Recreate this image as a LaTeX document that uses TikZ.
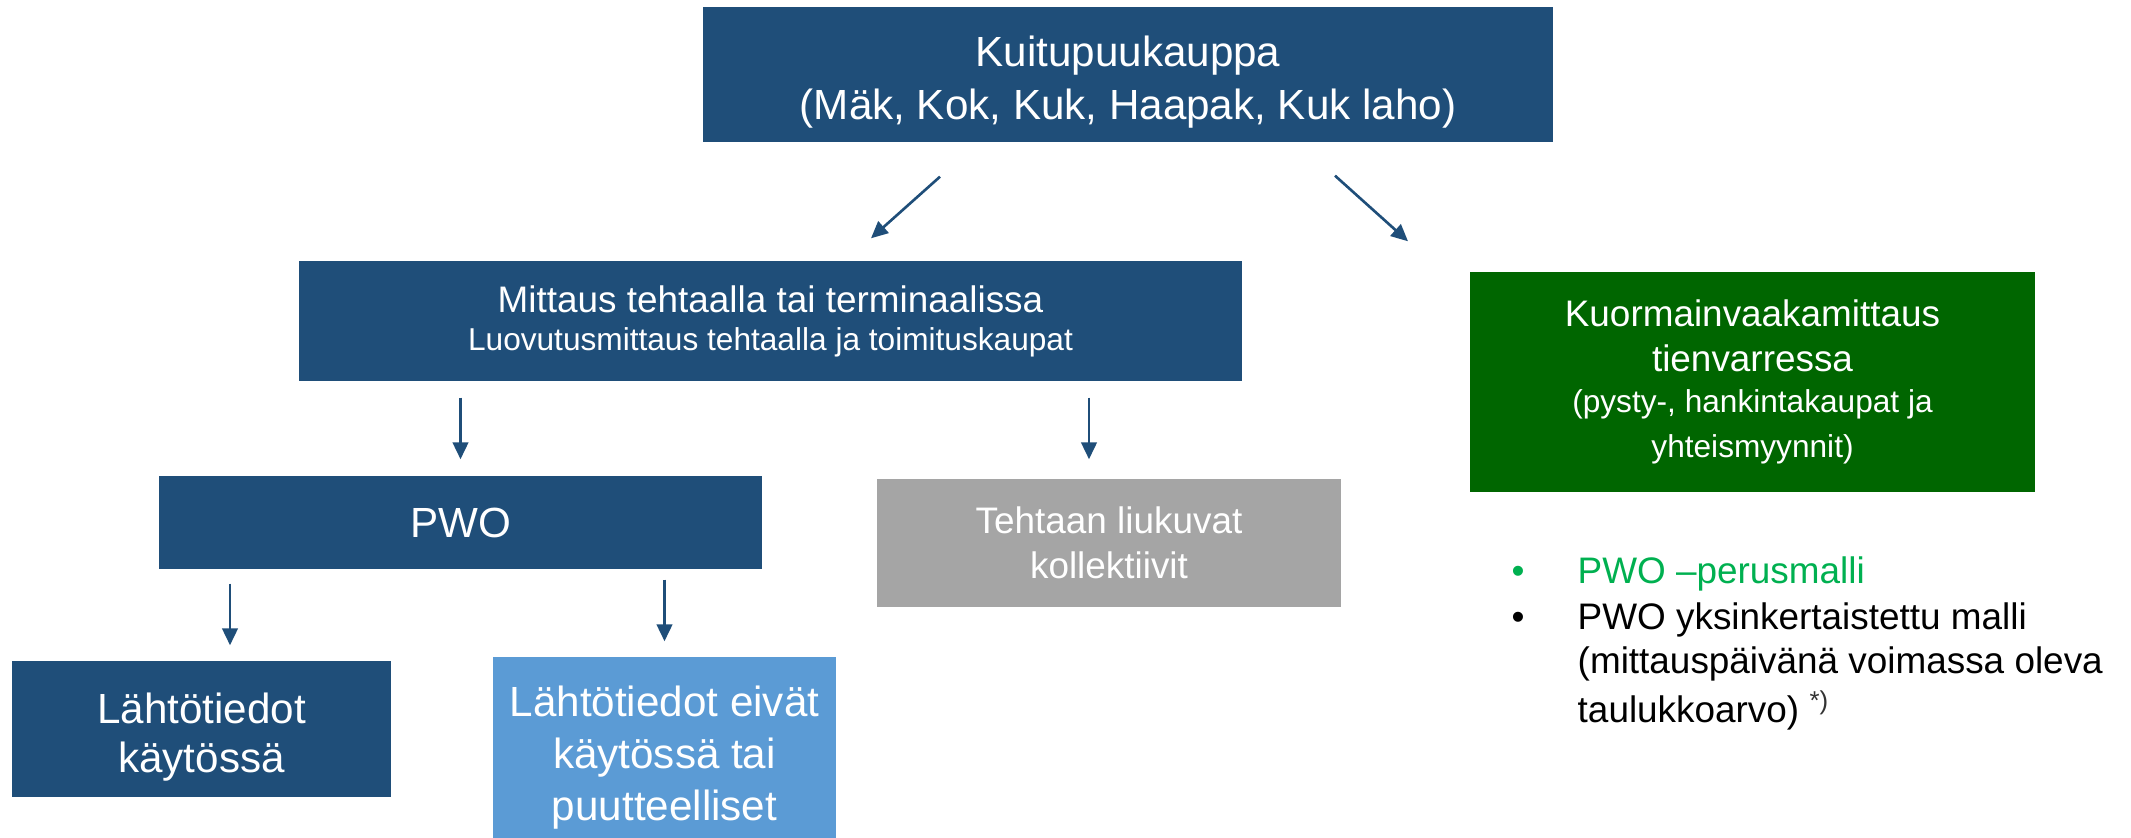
\documentclass[tikz,border=0pt]{standalone}
\usepackage{fontspec}
\setmainfont{Liberation Sans}
\usetikzlibrary{arrows.meta,positioning,calc}
\definecolor{boxblue}{HTML}{1F4E79}
\definecolor{boxgreen}{HTML}{006600}
\definecolor{boxgrey}{HTML}{A5A5A5}
\definecolor{boxlight}{HTML}{5B9BD5}
\definecolor{listgreen}{HTML}{00B050}
\newcommand{\fbig}{\fontsize{12}{14.8}\selectfont}
\newcommand{\fmid}{\fontsize{10.5}{12.8}\selectfont}
\newcommand{\fsmall}{\fontsize{9}{11}\selectfont}
\newcommand{\topstrut}[1]{\rule{0pt}{#1}}
\tikzset{
  bluebox/.style={fill=boxblue, text=white, align=center, inner sep=0pt},
  greenbox/.style={bluebox, fill=boxgreen},
  greybox/.style={bluebox, fill=boxgrey},
  lightbox/.style={bluebox, fill=boxlight},
  arr/.style={-{Triangle[length=4.8pt, width=4.4pt]}, line width=0.75pt, draw=boxblue},
  listtext/.style={inner sep=0pt, font=\fmid, anchor=base west}
}
\begin{document}
\begin{tikzpicture}
  \useasboundingbox (0,0) rectangle (21.31,8.38);
  % boxes
  \node[bluebox, minimum width=8.5cm, minimum height=1.35cm, font=\fbig] (top) at (11.28,7.635)
    {\topstrut{13pt}Kuitupuukauppa\\[0.4pt](Mäk, Kok, Kuk, Haapak, Kuk laho)};
  \node[bluebox, minimum width=9.43cm, minimum height=1.2cm, font=\fmid] (mitt) at (7.705,5.17)
    {Mittaus tehtaalla tai terminaalissa\\[-2pt]{\fsmall Luovutusmittaus tehtaalla ja toimituskaupat}};
  \node[greenbox, minimum width=5.65cm, minimum height=2.2cm, font=\fmid] (kuorm) at (17.525,4.56)
    {Kuormainvaakamittaus\\tienvarressa\\[-1pt]{\fsmall (pysty-, hankintakaupat ja}\\{\fsmall yhteismyynnit)}};
  \node[bluebox, minimum width=6.03cm, minimum height=0.93cm, font=\fbig] (pwo) at (4.605,3.155) {PWO};
  \node[greybox, minimum width=4.64cm, minimum height=1.28cm, font=\fmid] (teht) at (11.09,2.95)
    {Tehtaan liukuvat\\kollektiivit};
  \node[bluebox, minimum width=3.79cm, minimum height=1.36cm, font=\fbig] (lt1) at (2.015,1.09)
    {\topstrut{13.3pt}Lähtötiedot\\[-0.6pt]käytössä};
  \node[lightbox, minimum width=3.43cm, minimum height=1.81cm, font=\fbig] (lt2) at (6.645,0.905)
    {\topstrut{14.4pt}Lähtötiedot eivät\\käytössä tai\\puutteelliset};

  % bullet list
  \node[listtext, text=listgreen] (l1) at (15.77,2.54) {PWO –perusmalli};
  \node[listtext] (l2) at (15.77,2.08) {PWO yksinkertaistettu malli};
  \node[listtext] (l3) at (15.77,1.64) {(mittauspäivänä voimassa oleva};
  \node[listtext] (l4) at (15.77,1.15) {taulukkoarvo) \textsuperscript{\color{black!80}*)}};
  \node[listtext, anchor=base, text=listgreen] (d1) at ($(l1.base west)+(-0.59,0)$) {•};
  \node[listtext, anchor=base] (d2) at ($(l2.base west)+(-0.59,0)$) {•};

  % arrows
  \draw[arr] ($(top.south)+(-1.88,-0.34)$) -- ($(mitt.north)+(1.005,0.22)$);
  \draw[arr] ($(top.south)+(2.07,-0.33)$) -- ($(kuorm.north)+(-3.445,0.30)$);
  \draw[arr] ($(mitt.south -| pwo.north)+(0,-0.16)$) -- ($(pwo.north)+(0,0.16)$);
  \draw[arr] ($(mitt.south -| teht.north)+(-0.2,-0.16)$) -- ($(teht.north)+(-0.2,0.19)$);
  \draw[arr] ($(pwo.south -| lt1.north)+(0.285,-0.14)$) -- ($(lt1.north)+(0.285,0.15)$);
  \draw[arr] ($(pwo.south -| lt2.north)+(0,-0.10)$) -- ($(lt2.north)+(0,0.15)$);
\end{tikzpicture}
\end{document}
